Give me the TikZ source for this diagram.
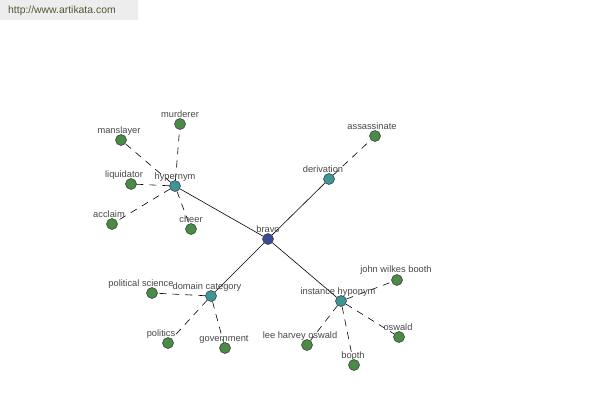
\documentclass[tikz,border=0pt]{standalone}
\usepackage{fontspec}
\setmainfont{Liberation Sans}
\begin{document}
\begin{tikzpicture}[x=1pt,y=-1pt,
  dot/.style={circle,draw=black!80,line width=0.5pt,inner sep=0pt,minimum size=11pt},
  root/.style={dot,fill=rootc},
  mid/.style={dot,fill=midc},
  leaf/.style={dot,fill=leafc},
  lbl/.style={font=\fontsize{9.3}{10}\selectfont,text=black!72,inner sep=0pt,anchor=base},
  rel/.style={line width=0.6pt,black},
  sub/.style={line width=0.6pt,black,dash pattern=on 7pt off 6pt}]
\definecolor{rootc}{HTML}{3B4C96}
\definecolor{midc}{HTML}{3E9595}
\definecolor{leafc}{HTML}{4A8B47}
\definecolor{wmc}{HTML}{4E5A30}
\useasboundingbox (0,0) rectangle (600,400);
\fill[black!7] (0,0) rectangle (138,20);
\node[anchor=west,font=\fontsize{10.4}{12}\selectfont,text=wmc,inner sep=0pt] (wm) at (8,11) {http://www.artikata.com};

% nodes
\node[root] (bravo) at (268,239) {};
\node[mid] (hyper) at (175,186) {};
\node[mid] (deriv) at (329,179) {};
\node[mid] (domain) at (211,296) {};
\node[mid] (inst) at (341,301) {};
\node[leaf] (murderer) at (180,124) {};
\node[leaf] (manslayer) at (121,140) {};
\node[leaf] (liquidator) at (131,184) {};
\node[leaf] (acclaim) at (112,224) {};
\node[leaf] (cheer) at (191,229) {};
\node[leaf] (assassinate) at (375,136) {};
\node[leaf] (polsci) at (152,293) {};
\node[leaf] (politics) at (168,343) {};
\node[leaf] (government) at (225,348) {};
\node[leaf] (jwb) at (397,280) {};
\node[leaf] (lho) at (307,345) {};
\node[leaf] (booth) at (354,365) {};
\node[leaf] (oswald) at (399,337) {};

% edges
\draw[rel] (bravo) -- (hyper);
\draw[rel] (bravo) -- (deriv);
\draw[rel] (bravo) -- (domain);
\draw[rel] (bravo) -- (inst);
\draw[sub] (hyper) -- (murderer);
\draw[sub] (hyper) -- (manslayer);
\draw[sub] (hyper) -- (liquidator);
\draw[sub] (hyper) -- (acclaim);
\draw[sub] (hyper) -- (cheer);
\draw[sub] (deriv) -- (assassinate);
\draw[sub] (domain) -- (polsci);
\draw[sub] (domain) -- (politics);
\draw[sub] (domain) -- (government);
\draw[sub] (inst) -- (jwb);
\draw[sub] (inst) -- (lho);
\draw[sub] (inst) -- (booth);
\draw[sub] (inst) -- (oswald);

% labels
\node[lbl] (lbravo) at (268,232) {bravo};
\node[lbl] (lhyper) at (175,179) {hypernym};
\node[lbl] (lderiv) at (323,172) {derivation};
\node[lbl] (ldomain) at (207,289) {domain category};
\node[lbl] (linst) at (338,294) {instance hyponym};
\node[lbl] (lmurderer) at (180,117) {murderer};
\node[lbl] (lmanslayer) at (119,133) {manslayer};
\node[lbl] (lliquidator) at (124,177) {liquidator};
\node[lbl] (lacclaim) at (109,217) {acclaim};
\node[lbl] (lcheer) at (191,222) {cheer};
\node[lbl] (lassassinate) at (372,129) {assassinate};
\node[lbl] (lpolsci) at (141,286) {political science};
\node[lbl] (lpolitics) at (161,336) {politics};
\node[lbl] (lgovernment) at (224,341) {government};
\node[lbl] (ljwb) at (396,272) {john wilkes booth};
\node[lbl] (llho) at (300,338) {lee harvey oswald};
\node[lbl] (lbooth) at (353,358) {booth};
\node[lbl] (loswald) at (398,330) {oswald};
\end{tikzpicture}
\end{document}
